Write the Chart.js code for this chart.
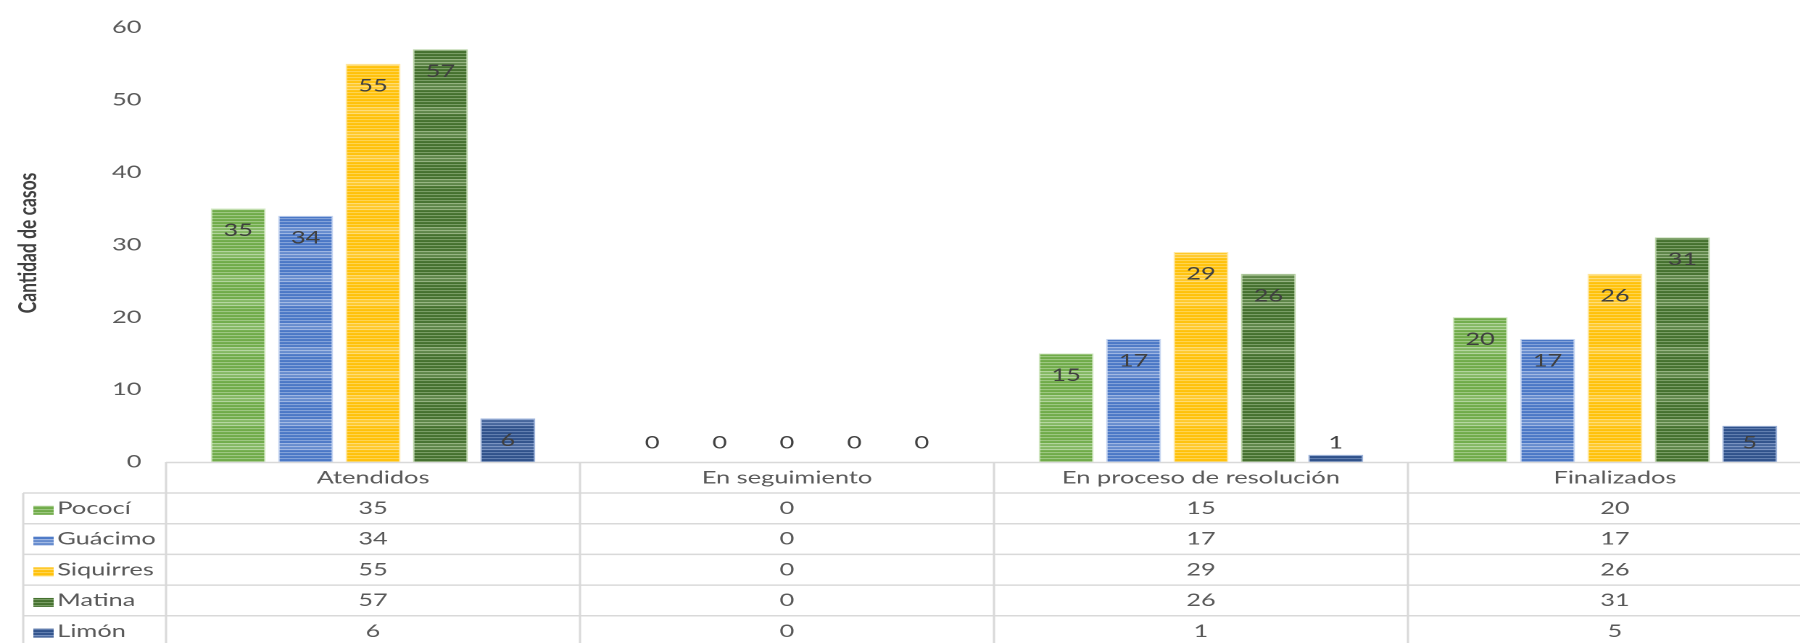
<!DOCTYPE html>
<html lang="es">
<head>
<meta charset="utf-8">
<title>Cantidad de casos por estado</title>
<script src="https://cdn.jsdelivr.net/npm/chart.js@4.4.1/dist/chart.umd.min.js"></script>
<style>
  html, body { margin: 0; padding: 0; overflow: hidden; background: #fff; }
  /* the original picture is stretched sideways, so the whole chart is too */
  #wrap { width: 1258px; height: 643px; transform: scaleX(1.45); transform-origin: 0 0; }
</style>
</head>
<body>
<div id="wrap"><canvas id="chart"></canvas></div>
<script>
'use strict';

// data
const categories = ['Atendidos', 'En seguimiento', 'En proceso de resolución', 'Finalizados'];
const seriesNames = ['Pococí', 'Guácimo', 'Siquirres', 'Matina', 'Limón'];
const pococi = [35, 0, 15, 20];
const guacimo = [34, 0, 17, 17];
const siquirres = [55, 0, 29, 26];
const matina = [57, 0, 26, 31];
const limon = [6, 0, 1, 5];
const yTicks = [0, 10, 20, 30, 40, 50, 60];
const yTitle = 'Cantidad de casos';

const seriesValues = [pococi, guacimo, siquirres, matina, limon];
// base colour, light stripe colour
const seriesColors = [
  ['#6AA842', '#D3E8C4'],
  ['#4472C4', '#C6D5F0'],
  ['#FFBF00', '#FFE9A6'],
  ['#3E6B28', '#B9D3A6'],
  ['#2A4C86', '#9DB3DA']
];

const font = 'Lato, "Noto Sans", sans-serif';
const textGrey = '#595959';
const lineGrey = '#D9D9D9';

// horizontal stripe fill like the excel pattern
function stripes(base, light) {
  let p = document.createElement('canvas');
  p.width = 8;
  p.height = 24;
  let g = p.getContext('2d');
  g.fillStyle = base;
  g.fillRect(0, 0, 8, 24);
  g.fillStyle = light;
  for (let y = 0; y < 24; y++) {
    if (y % 3 === 2) {
      g.globalAlpha = (y > 9 && y < 18) ? 0.9 : 0.65;
      g.fillRect(0, y, 8, 1);
    } else if (y > 11 && y < 17) {
      g.globalAlpha = 0.2;
      g.fillRect(0, y, 8, 1);
    }
  }
  g.globalAlpha = 1;
  return g.createPattern(p, 'repeat');
}

let datasets = [];
for (let i = 0; i < seriesNames.length; i++) {
  datasets.push({
    label: seriesNames[i],
    data: seriesValues[i],
    backgroundColor: stripes(seriesColors[i][0], seriesColors[i][1]),
    borderColor: seriesColors[i][1],
    borderWidth: (ctx) => ctx.raw === 0 ? 0 : 1,
    categoryPercentage: 0.814,
    barPercentage: 0.816
  });
}

const ROW0 = 493;     // first data row top
const ROWH = 30.7;

// value labels, y title and the data table under the axis
const tablePlugin = {
  id: 'tablePlugin',
  afterDatasetsDraw(chart) {
    const ctx = chart.ctx;
    ctx.save();
    ctx.font = '17.5px ' + font;
    ctx.fillStyle = '#404040';
    ctx.textAlign = 'center';
    ctx.textBaseline = 'middle';
    chart.data.datasets.forEach((ds, i) => {
      chart.getDatasetMeta(i).data.forEach((bar, j) => {
        let y = Math.min(bar.y + 22, bar.base - 19);
        ctx.fillText(String(ds.data[j]), bar.x, y);
      });
    });
    ctx.restore();
  },
  afterDraw(chart) {
    const ctx = chart.ctx;
    const area = chart.chartArea;
    const xs = chart.scales.x;
    const bin = (area.right - area.left) / categories.length;
    const legendLeft = 16;
    const bottom = chart.height + 10;

    ctx.save();
    // y axis title
    ctx.save();
    ctx.translate(19.3, 243);
    ctx.rotate(-Math.PI / 2);
    ctx.font = 'bold 17.5px ' + font;
    ctx.fillStyle = '#404040';
    ctx.textAlign = 'center';
    ctx.textBaseline = 'middle';
    ctx.fillText(yTitle, 0, 0);
    ctx.restore();

    // grid of the table
    ctx.strokeStyle = lineGrey;
    ctx.lineWidth = 1.5;
    ctx.beginPath();
    ctx.moveTo(area.left, area.bottom + 0.5);
    ctx.lineTo(chart.width + 20, area.bottom + 0.5);
    for (let r = 0; r < seriesNames.length; r++) {
      let y = ROW0 + r * ROWH;
      ctx.moveTo(legendLeft, y);
      ctx.lineTo(chart.width + 20, y);
    }
    ctx.moveTo(legendLeft, ROW0);
    ctx.lineTo(legendLeft, bottom);
    for (let c = 0; c <= categories.length; c++) {
      let x = area.left + c * bin;
      ctx.moveTo(x, area.bottom);
      ctx.lineTo(x, bottom);
    }
    ctx.stroke();

    ctx.font = '17.5px ' + font;
    ctx.fillStyle = textGrey;
    ctx.textBaseline = 'middle';
    ctx.textAlign = 'center';
    // header row
    categories.forEach((name, c) => {
      ctx.fillText(name, xs.getPixelForValue(c), (area.bottom + ROW0) / 2 + 0.5);
    });
    // values
    seriesValues.forEach((vals, r) => {
      let y = ROW0 + (r + 0.5) * ROWH;
      vals.forEach((v, c) => {
        ctx.fillText(String(v), xs.getPixelForValue(c), y);
      });
    });
    // legend keys
    ctx.textAlign = 'left';
    seriesNames.forEach((name, r) => {
      let y = ROW0 + (r + 0.5) * ROWH;
      ctx.fillStyle = chart.data.datasets[r].backgroundColor;
      ctx.fillRect(23, y - 2.5, 14, 9);
      ctx.fillStyle = textGrey;
      ctx.fillText(name, 39.5, y);
    });
    ctx.restore();
  }
};

function renderChart() {
  const canvas = document.getElementById('chart');
  new Chart(canvas, {
    type: 'bar',
    data: {
      labels: categories,
      datasets: datasets
    },
    options: {
      responsive: true,
      maintainAspectRatio: false,
      animation: false,
      devicePixelRatio: 2,
      layout: {
        padding: { left: 0, right: 1.5, top: 20, bottom: 181 }
      },
      plugins: {
        legend: { display: false },
        tooltip: { enabled: false }
      },
      scales: {
        x: {
          display: false,
          offset: true,
          grid: { display: false }
        },
        y: {
          min: yTicks[0],
          max: yTicks[yTicks.length - 1],
          grid: { display: false, drawTicks: false },
          border: { display: false },
          afterFit: (scale) => { scale.width = 114.5; },
          afterBuildTicks: (scale) => {
            scale.ticks = yTicks.map(v => ({ value: v }));
          },
          ticks: {
            color: textGrey,
            padding: 17,
            font: { family: font, size: 17.5 }
          }
        }
      }
    },
    plugins: [tablePlugin]
  });
}

if (document.fonts && document.fonts.load) {
  Promise.all([
    document.fonts.load('17px Lato'),
    document.fonts.load('bold 17px Lato')
  ]).then(renderChart, renderChart);
} else {
  renderChart();
}
</script>
</body>
</html>
